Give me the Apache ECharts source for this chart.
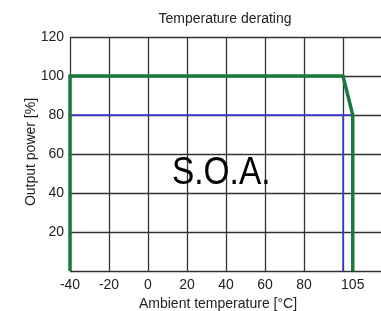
<!DOCTYPE html>
<html>
<head>
<meta charset="utf-8">
<script src="https://cdn.jsdelivr.net/npm/echarts@6/dist/echarts.min.js"></script>
<style>html,body{margin:0;padding:0;background:#fff}#c{width:381px;height:311px}</style>
</head>
<body>
<div id="c"></div>
<script>
const xLabels = [-40, -20, 0, 20, 40, 60, 80, 105];
const yLabels = [20, 40, 60, 80, 100, 120];
const deratingCurve = [[-40, 0], [-40, 100], [100, 100], [105, 80], [105, 0]];
const blueHorizontal = [[-40, 80], [105, 80]];
const blueVertical = [[100, 80], [100, 0]];
const areaLabel = 'S.O.A.';
const yTitle = 'Output power [%]';

const chart = echarts.init(document.getElementById('c'), null, {renderer: 'canvas'});
const font = '"Liberation Sans", Arial, sans-serif';
chart.setOption({
  animation: false,
  backgroundColor: '#fff',
  title: {
    text: 'Temperature derating', left: 220, top: 7, textAlign: 'center',
    textStyle: {fontSize: 14, fontWeight: 'normal', color: '#222', fontFamily: font}
  },
  grid: {left: 70, top: 37, right: -1, bottom: 40, containLabel: false, outerBoundsMode: 'none'},
  xAxis: {
    type: 'value', min: -40, max: 120, interval: 20,
    name: 'Ambient temperature [°C]', nameLocation: 'middle', nameGap: 25,
    nameTextStyle: {fontSize: 14, color: '#222', fontFamily: font, padding: [0, 16, 0, 0]},
    axisLine: {show: false}, axisTick: {show: false},
    axisLabel: {customValues: xLabels, fontSize: 14, color: '#222', fontFamily: font, margin: 7},
    splitLine: {show: true, lineStyle: {color: '#333', width: 1.3}}
  },
  yAxis: {
    type: 'value', min: 0, max: 120, interval: 20,
    axisLine: {show: false}, axisTick: {show: false},
    axisLabel: {customValues: yLabels, fontSize: 14, color: '#222', fontFamily: font, margin: 6},
    splitLine: {show: true, lineStyle: {color: '#333', width: 1.3}}
  },
  series: [
    {type: 'line', data: blueHorizontal, symbol: 'none', lineStyle: {color: '#3838f0', width: 1.5}, z: 3},
    {type: 'line', data: blueVertical, symbol: 'none', lineStyle: {color: '#3838f0', width: 1.5}, z: 3},
    {type: 'line', data: deratingCurve, symbol: 'none', lineStyle: {color: '#1a7a3c', width: 3.5, join: 'miter'}, z: 4}
  ],
  graphic: [{
    type: 'text', x: 172, y: 155, scaleX: 0.88, z: 10,
    style: {text: areaLabel, fontSize: 38, fill: '#000', fontFamily: font}
  }, {
    type: 'text', x: 31, y: 152, rotation: Math.PI / 2, z: 10,
    style: {text: yTitle, fontSize: 14, fill: '#222', fontFamily: font, align: 'center', verticalAlign: 'middle'}
  }]
});
</script>
</body>
</html>
